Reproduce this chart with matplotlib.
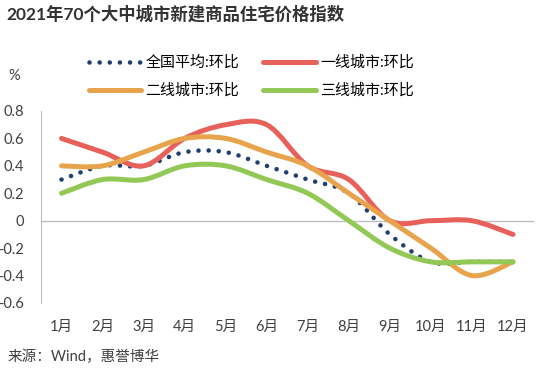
import matplotlib.pyplot as plt
from matplotlib.path import Path
from matplotlib.patches import PathPatch
from matplotlib.lines import Line2D

plt.rcParams['font.family'] = ['Lato', 'Noto Sans CJK SC', 'DejaVu Sans']

months = ["1月", "2月", "3月", "4月", "5月", "6月", "7月", "8月", "9月", "10月", "11月", "12月"]
national = [0.3, 0.4, 0.4, 0.5, 0.5, 0.4, 0.3, 0.2, -0.1, -0.3, -0.3, -0.3]
tier1 = [0.6, 0.5, 0.4, 0.6, 0.7, 0.7, 0.4, 0.3, 0.0, 0.0, 0.0, -0.1]
tier2 = [0.4, 0.4, 0.5, 0.6, 0.6, 0.5, 0.4, 0.2, 0.0, -0.2, -0.4, -0.3]
tier3 = [0.2, 0.3, 0.3, 0.4, 0.4, 0.3, 0.2, 0.0, -0.2, -0.3, -0.3, -0.3]
yticks = [0.8, 0.6, 0.4, 0.2, 0, -0.2, -0.4, -0.6]

C_NAT = "#1f3f73"
C_T1 = "#e8605a"
C_T2 = "#e8a44c"
C_T3 = "#92c855"
DOTS = (0, (0.01, 2.2))


def smooth_path(xs, ys):
    # Excel-like smoothed line through the data points (cubic bezier)
    pts = list(zip(xs, ys))
    verts = [pts[0]]
    codes = [Path.MOVETO]
    n = len(pts)
    for i in range(n - 1):
        p0 = pts[i - 1] if i > 0 else pts[i]
        p1, p2 = pts[i], pts[i + 1]
        p3 = pts[i + 2] if i + 2 < n else p2
        c1 = (p1[0] + (p2[0] - p0[0]) / 6, p1[1] + (p2[1] - p0[1]) / 6)
        c2 = (p2[0] - (p3[0] - p1[0]) / 6, p2[1] - (p3[1] - p1[1]) / 6)
        verts += [c1, c2, p2]
        codes += [Path.CURVE4] * 3
    return Path(verts, codes)


fig = plt.figure(figsize=(5.39, 3.77), dpi=100)
ax = fig.add_axes([41 / 539, 1 - 303 / 377, (533.5 - 41) / 539, (303 - 111) / 377])

x = list(range(len(months)))
ax.axhline(0, color="#bfbfbf", lw=1, zorder=1)

series = [
    (national, C_NAT, 3.3, DOTS),
    (tier1, C_T1, 3.6, "-"),
    (tier2, C_T2, 3.6, "-"),
    (tier3, C_T3, 3.6, "-"),
]
for i, (vals, col, lw, ls) in enumerate(series):
    patch = PathPatch(smooth_path(x, vals), fill=False, edgecolor=col, lw=lw,
                      linestyle=ls, capstyle="round", joinstyle="round", zorder=2 + i)
    ax.add_patch(patch)

ax.set_xlim(-0.5, 11.5)
ax.set_ylim(-0.6, 0.8)
ax.set_xticks(x)
ax.set_xticklabels(months, fontsize=10.5, color="#404040")
ax.set_yticks(yticks)
ax.set_yticklabels([f"{v:g}" for v in yticks], fontsize=10.5, color="#404040")
ax.tick_params(length=0, pad=12)
for s in ["top", "right", "bottom"]:
    ax.spines[s].set_visible(False)
ax.spines["left"].set_color("#bfbfbf")

handles = [
    Line2D([], [], color=C_NAT, lw=3.3, linestyle=DOTS, dash_capstyle="round"),
    Line2D([], [], color=C_T2, lw=3.6, solid_capstyle="round"),
    Line2D([], [], color=C_T1, lw=3.6, solid_capstyle="round"),
    Line2D([], [], color=C_T3, lw=3.6, solid_capstyle="round"),
]
labels = ["全国平均:环比", "二线城市:环比", "一线城市:环比", "三线城市:环比"]
fig.legend(handles, labels, ncol=2, frameon=False, fontsize=10.8,
           loc="upper left", bbox_to_anchor=(75 / 539, 1 - 42 / 377),
           handlelength=3.5, handletextpad=0.3, columnspacing=1.6, labelspacing=0.9)

fig.text(6 / 539, 1 - 14 / 377, "2021年70个大中城市新建商品住宅价格指数",
         fontsize=12.5, fontweight="bold", color="#333333", va="center")
fig.text(8 / 539, 1 - 76 / 377, "%", fontsize=10.5, color="#404040", va="center")
fig.text(8 / 539, 1 - 357 / 377, "来源：Wind，惠誉博华", fontsize=10.5, color="#404040", va="center")

fig.savefig("out.png", dpi=100)
